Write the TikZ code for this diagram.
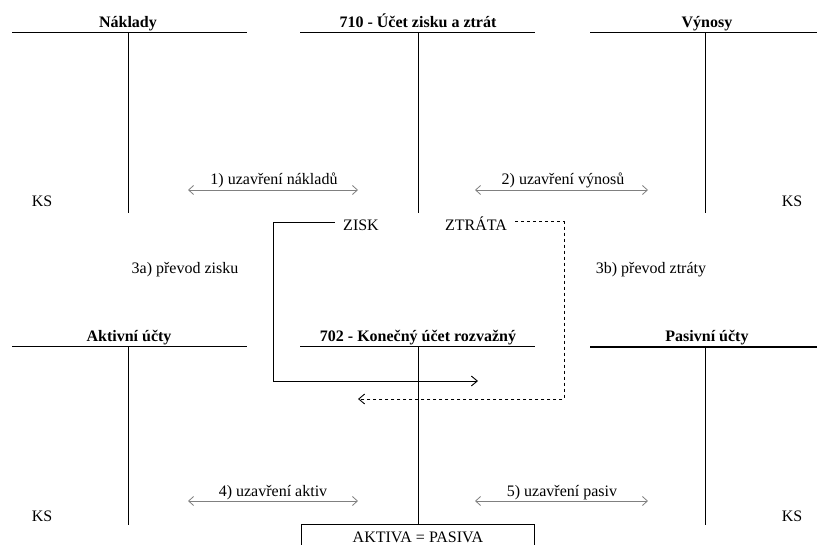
\documentclass[tikz,border=0pt]{standalone}
\usepackage{fontspec}
\setmainfont{Liberation Serif}
\usetikzlibrary{arrows.meta}

\begin{document}
\begin{tikzpicture}[x=1pt,y=-1pt,line width=1pt,
  every node/.style={font=\fontsize{16}{19}\selectfont},
  ucet/.style={font=\fontsize{16}{19}\selectfont\bfseries,anchor=base},
  popis/.style={anchor=base},
  konec/.style={anchor=base,inner xsep=8pt},
  obe/.style={{Straight Barb[length=5pt,width=9pt]}-{Straight Barb[length=5pt,width=9pt]},gray,line width=0.8pt},
  tok/.style={-{Straight Barb[length=6pt,width=10pt]},line width=0.9pt}]
  \clip (0,0) rectangle (817,545);
  \fill[white] (0,0) rectangle (817,545);

  \draw (12,33)--(247,33);
  \draw (128,33)--(128,213);
  \draw (300,33)--(535,33);
  \draw (418,33)--(418,213);
  \draw (590,33)--(817,33);
  \draw (705,33)--(705,213);

  \draw (12,347)--(247,347);
  \draw (128,347)--(128,525);
  \draw (300,347)--(535,347);
  \draw[line width=1.8pt] (590,347)--(817,347);
  \draw (705,347)--(705,525);

  \node[ucet] (naklady) at (128,28) {Náklady};
  \node[ucet] (vysledovka) at (418,28) {710 - Účet zisku a ztrát};
  \node[ucet] (vynosy) at (707,28) {Výnosy};
  \node[ucet] (aktivni) at (129,342) {Aktivní účty};
  \node[ucet] (rozvazny) at (418,342) {702 - Konečný účet rozvažný};
  \node[ucet] (pasivni) at (707,342) {Pasivní účty};

  \node[popis] (ks1) at (42,207) {KS};
  \node[popis] (ks2) at (792,207) {KS};
  \node[popis] (ks3) at (42,521) {KS};
  \node[popis] (ks4) at (792,521) {KS};

  \node[popis] (uzn) at (274,185) {1) uzavření nákladů};
  \node[popis] (uzv) at (563,185) {2) uzavření výnosů};
  \node[popis] (uza) at (273,496) {4) uzavření aktiv};
  \node[popis] (uzp) at (562,496) {5) uzavření pasiv};
  \node[popis] (prz) at (185,274) {3a) převod zisku};
  \node[popis] (prt) at (651,274) {3b) převod ztráty};

  \coordinate (uzn1) at (188,190);
  \coordinate (uzn2) at (358,190);
  \coordinate (uzv1) at (475,190);
  \coordinate (uzv2) at (648,190);
  \coordinate (uza1) at (188,501);
  \coordinate (uza2) at (358,501);
  \coordinate (uzp1) at (475,501);
  \coordinate (uzp2) at (648,501);
  \draw[obe] (uzn1) -- (uzn2);
  \draw[obe] (uzv1) -- (uzv2);
  \draw[obe] (uza1) -- (uza2);
  \draw[obe] (uzp1) -- (uzp2);

  \node[konec] (zisk) at (361,231) {ZISK};
  \node[konec] (ztrata) at (476,231) {ZTRÁTA};
  \coordinate (ziskroh) at (273,381);
  \coordinate (ziskend) at (478,381);
  \coordinate (ztrataroh) at (564,399);
  \coordinate (ztrataend) at (358,399);
  \draw[tok] ([yshift=3pt]zisk.west) -| (ziskroh) -- (ziskend);
  \draw[tok,dashed] ([yshift=3pt]ztrata.east) -| (ztrataroh) -- (ztrataend);

  \node[draw,anchor=north,minimum width=233pt,minimum height=30pt,inner sep=0pt] (rovnost) at (418,524) {};
  \node[popis] (rovnosttext) at (418,542) {AKTIVA = PASIVA};
  \draw (418,347) -- (rovnost.north);
\end{tikzpicture}
\end{document}
